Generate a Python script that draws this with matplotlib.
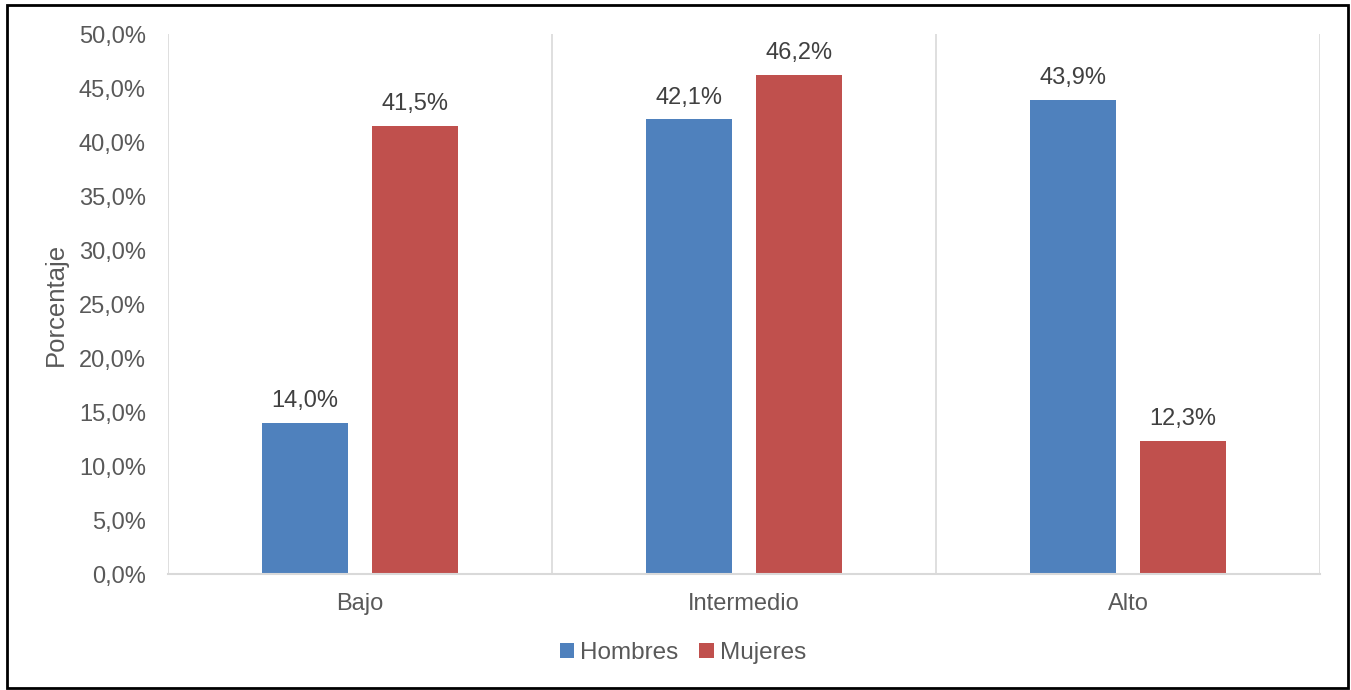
import matplotlib.pyplot as plt
from matplotlib.patches import Rectangle
import numpy as np

plt.rcParams['font.family'] = ['Liberation Sans', 'DejaVu Sans']

categories = ["Bajo", "Intermedio", "Alto"]
hombres = [14.0, 42.1, 43.9]
mujeres = [41.5, 46.2, 12.3]
yticks = [0, 5, 10, 15, 20, 25, 30, 35, 40, 45, 50]

blue = "#4F81BD"
red = "#C0504D"
text_col = "#595959"
label_col = "#404040"
grid_col = "#D9D9D9"


def pct(v):
    # Spanish decimal comma
    return f"{v:.1f}%".replace(".", ",")


fig = plt.figure(figsize=(13.51, 6.90), dpi=100)
ax = fig.add_axes([168 / 1351, 116 / 690, 1152 / 1351, 540 / 690])

x = np.arange(len(categories))
w = 0.224
off = 0.143
b1 = ax.bar(x - off, hombres, w, color=blue, label="Hombres")
b2 = ax.bar(x + off, mujeres, w, color=red, label="Mujeres")

for bars, vals in ((b1, hombres), (b2, mujeres)):
    for b, v in zip(bars, vals):
        ax.text(b.get_x() + b.get_width() / 2, v + 1.0, pct(v),
                ha="center", va="bottom", fontsize=17, color=label_col)

ax.set_xlim(-0.5, 2.5)
ax.set_ylim(0, 50)
for xv in [-0.5, 0.5, 1.5, 2.5]:
    ax.axvline(xv, color=grid_col, lw=1.2, zorder=0)

ax.set_yticks(yticks)
ax.set_yticklabels([pct(v) for v in yticks])
ax.set_xticks(x)
ax.set_xticklabels(categories)
ax.tick_params(axis="both", length=0, labelsize=17, colors=text_col)
ax.tick_params(axis="y", pad=16)
ax.tick_params(axis="x", pad=14)

for s in ["top", "right", "left"]:
    ax.spines[s].set_visible(False)
ax.spines["bottom"].set_color(grid_col)
ax.spines["bottom"].set_linewidth(1.5)

ax.set_ylabel("Porcentaje", fontsize=18.5, color=text_col, labelpad=8)

leg = fig.legend(loc="center", bbox_to_anchor=(683 / 1351, 1 - 653 / 690),
                 ncol=2, frameon=False, fontsize=17.5, handlelength=0.6,
                 handleheight=0.6, handletextpad=0.25, columnspacing=0.85)
for t in leg.get_texts():
    t.set_color(text_col)

fig.patches.append(Rectangle((7 / 1351, 2 / 690), 1341 / 1351, 683 / 690,
                             transform=fig.transFigure, fill=False,
                             edgecolor="black", lw=2))

fig.savefig("out.png", dpi=100)
